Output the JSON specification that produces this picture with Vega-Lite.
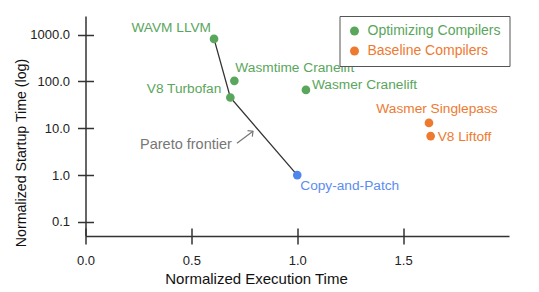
{
  "$schema": "https://vega.github.io/schema/vega-lite/v6.json",
  "width": 423.5,
  "height": 220,
  "autosize": {"type": "none"},
  "padding": {"left": 85.5, "top": 16, "right": 30, "bottom": 56},
  "config": {"view": {"stroke": null}, "font": "Liberation Sans"},
  "data": {"values": [
    {"name": "WAVM LLVM", "exec": 0.607, "startup": 810, "group": "Optimizing Compilers", "frontier": true},
    {"name": "Wasmtime Cranelift", "exec": 0.703, "startup": 103, "group": "Optimizing Compilers", "frontier": false},
    {"name": "V8 Turbofan", "exec": 0.684, "startup": 45.5, "group": "Optimizing Compilers", "frontier": true},
    {"name": "Wasmer Cranelift", "exec": 1.041, "startup": 66, "group": "Optimizing Compilers", "frontier": false},
    {"name": "Copy-and-Patch", "exec": 1.0, "startup": 1.0, "group": "Copy-and-Patch", "frontier": true},
    {"name": "Wasmer Singlepass", "exec": 1.622, "startup": 13, "group": "Baseline Compilers", "frontier": false},
    {"name": "V8 Liftoff", "exec": 1.630, "startup": 6.8, "group": "Baseline Compilers", "frontier": false}
  ]},
  "resolve": {"axis": {"x": "independent", "y": "independent"}},
  "layer": [
    {
      "transform": [{"filter": "datum.frontier"}],
      "mark": {"type": "line", "color": "#333333", "strokeWidth": 1.3},
      "encoding": {
        "x": {"field": "exec", "type": "quantitative",
          "scale": {"domain": [0, 2], "nice": false, "zero": false},
          "axis": {"orient": "bottom", "title": "Normalized Execution Time", "values": [0, 0.5, 1, 1.5], "format": ".1f",
            "grid": false, "tickSize": 8, "labelPadding": 10, "domainColor": "#333333", "tickColor": "#333333",
            "domainWidth": 1.5, "tickWidth": 1.5, "labelFontSize": 13, "labelColor": "#222222", "labelFlush": false,
            "titleFontSize": 15, "titleFontWeight": "normal", "titleColor": "#111111",
            "titleX": 170.5, "titleY": 42, "titleBaseline": "middle", "titleAlign": "center", "titleAnchor": null}},
        "y": {"field": "startup", "type": "quantitative",
          "scale": {"type": "log", "domain": [0.05, 2500], "nice": false},
          "axis": {"orient": "left", "title": "Normalized Startup Time (log)", "values": [0.1, 1, 10, 100, 1000], "format": ".1f",
            "grid": false, "tickSize": 8, "labelPadding": 8, "domainColor": "#333333", "tickColor": "#333333",
            "domainWidth": 1.5, "tickWidth": 1.5, "labelFontSize": 13, "labelColor": "#222222", "labelFlush": false,
            "titleFontSize": 14.2, "titleFontWeight": "normal", "titleColor": "#111111",
            "titleX": -64.5, "titleY": 136.5, "titleBaseline": "middle", "titleAlign": "center", "titleAngle": -90, "titleAnchor": null}},
        "order": {"field": "exec", "type": "quantitative"}
      }
    },
    {
      "mark": {"type": "point", "filled": true, "opacity": 1, "size": 75},
      "encoding": {
        "x": {"field": "exec", "type": "quantitative",
          "axis": {"orient": "bottom", "title": null, "labels": false, "domain": false, "grid": false, "values": [0, 0.5, 1, 1.5],
            "tickSize": -8, "tickColor": "#333333", "tickWidth": 1.5}},
        "y": {"field": "startup", "type": "quantitative",
          "axis": {"orient": "left", "title": null, "labels": false, "domain": false, "grid": false, "values": [0.1, 1, 10, 100, 1000],
            "tickSize": -8, "tickColor": "#333333", "tickWidth": 1.5}},
        "color": {"field": "group", "type": "nominal",
          "scale": {"domain": ["Optimizing Compilers", "Baseline Compilers", "Copy-and-Patch"], "range": ["#59A65C", "#EE7A30", "#4E86EE"]},
          "legend": {"title": null, "orient": "top-right", "offset": 0, "values": ["Optimizing Compilers", "Baseline Compilers"],
            "strokeColor": "#555555", "fillColor": "white", "padding": 8, "symbolType": "circle", "symbolSize": 80,
            "symbolStrokeWidth": 0, "labelFontSize": 14, "rowPadding": 6, "labelOffset": 6,
            "labelColor": {"expr": "datum.value == 'Baseline Compilers' ? '#EE7A30' : '#59A65C'"}}}
      }
    },
    {
      "transform": [{"filter": "datum.name == 'WAVM LLVM'"}],
      "mark": {"type": "text", "align": "right", "baseline": "middle", "dx": -3, "dy": -11, "fontSize": 13.7, "color": "#59A65C"},
      "encoding": {"x": {"field": "exec", "type": "quantitative", "axis": null}, "y": {"field": "startup", "type": "quantitative", "axis": null}, "text": {"field": "name"}}
    },
    {
      "transform": [{"filter": "datum.name == 'Wasmtime Cranelift'"}],
      "mark": {"type": "text", "align": "left", "baseline": "middle", "dx": 1, "dy": -13, "fontSize": 13.7, "color": "#59A65C"},
      "encoding": {"x": {"field": "exec", "type": "quantitative", "axis": null}, "y": {"field": "startup", "type": "quantitative", "axis": null}, "text": {"field": "name"}}
    },
    {
      "transform": [{"filter": "datum.name == 'V8 Turbofan'"}],
      "mark": {"type": "text", "align": "right", "baseline": "middle", "dx": -9, "dy": -8, "fontSize": 13.7, "color": "#59A65C"},
      "encoding": {"x": {"field": "exec", "type": "quantitative", "axis": null}, "y": {"field": "startup", "type": "quantitative", "axis": null}, "text": {"field": "name"}}
    },
    {
      "transform": [{"filter": "datum.name == 'Wasmer Cranelift'"}],
      "mark": {"type": "text", "align": "left", "baseline": "middle", "dx": 6, "dy": -5, "fontSize": 13.7, "color": "#59A65C"},
      "encoding": {"x": {"field": "exec", "type": "quantitative", "axis": null}, "y": {"field": "startup", "type": "quantitative", "axis": null}, "text": {"field": "name"}}
    },
    {
      "transform": [{"filter": "datum.name == 'Copy-and-Patch'"}],
      "mark": {"type": "text", "align": "left", "baseline": "middle", "dx": 3, "dy": 11, "fontSize": 13.7, "color": "#5B8DF0"},
      "encoding": {"x": {"field": "exec", "type": "quantitative", "axis": null}, "y": {"field": "startup", "type": "quantitative", "axis": null}, "text": {"field": "name"}}
    },
    {
      "transform": [{"filter": "datum.name == 'Wasmer Singlepass'"}],
      "mark": {"type": "text", "align": "center", "baseline": "middle", "dx": 8, "dy": -14, "fontSize": 13.7, "color": "#EE7A30"},
      "encoding": {"x": {"field": "exec", "type": "quantitative", "axis": null}, "y": {"field": "startup", "type": "quantitative", "axis": null}, "text": {"field": "name"}}
    },
    {
      "transform": [{"filter": "datum.name == 'V8 Liftoff'"}],
      "mark": {"type": "text", "align": "left", "baseline": "middle", "dx": 7, "dy": 1, "fontSize": 13.7, "color": "#EE7A30"},
      "encoding": {"x": {"field": "exec", "type": "quantitative", "axis": null}, "y": {"field": "startup", "type": "quantitative", "axis": null}, "text": {"field": "name"}}
    },
    {
      "data": {"values": [{"label": "Pareto frontier", "x1": 0.715, "y1": 4.78, "x2": 0.791, "y2": 8.63}]},
      "layer": [
        {
          "mark": {"type": "rule", "color": "#777777", "strokeWidth": 1.2},
          "encoding": {"x": {"field": "x1", "type": "quantitative", "axis": null}, "y": {"field": "y1", "type": "quantitative", "axis": null},
            "x2": {"field": "x2"}, "y2": {"field": "y2"}}
        },
        {
          "mark": {"type": "point", "shape": "M-1,-1L0,0L-1,1", "filled": false, "stroke": "#777777", "strokeWidth": 1.2, "size": 60, "angle": 322.5, "opacity": 1},
          "encoding": {"x": {"field": "x2", "type": "quantitative", "axis": null}, "y": {"field": "y2", "type": "quantitative", "axis": null}}
        },
        {
          "mark": {"type": "text", "align": "right", "baseline": "middle", "dx": -5, "dy": 2, "fontSize": 14.5, "color": "#777777"},
          "encoding": {"x": {"field": "x1", "type": "quantitative", "axis": null}, "y": {"field": "y1", "type": "quantitative", "axis": null}, "text": {"field": "label"}}
        }
      ]
    }
  ]
}
